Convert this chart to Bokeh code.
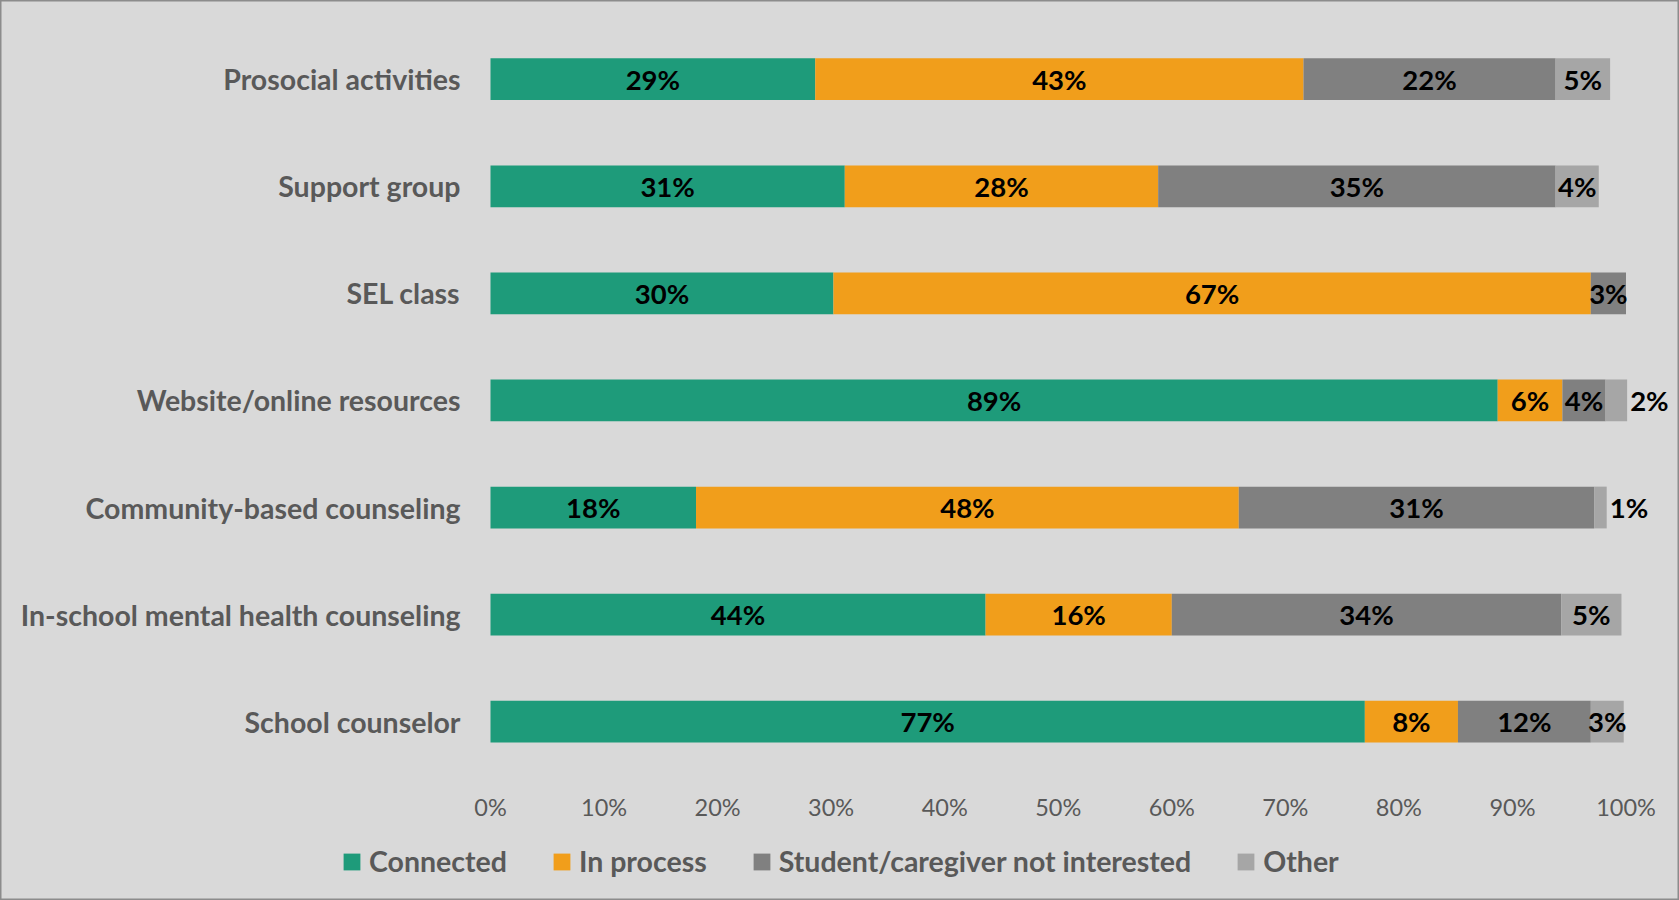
from bokeh.plotting import figure
from bokeh.models import Range1d, Legend, LegendItem
from bokeh.core.properties import value
from bokeh.embed import file_html
from bokeh.resources import INLINE

# ---- data (top to bottom) ----
categories = [
    "Prosocial activities",
    "Support group",
    "SEL class",
    "Website/online resources",
    "Community-based counseling",
    "In-school mental health counseling",
    "School counselor",
]
series = ["Connected", "In process", "Student/caregiver not interested", "Other"]
connected = [28.6, 31.2, 30.2, 88.7, 18.1, 43.6, 77.0]
in_process = [43.0, 27.6, 66.7, 5.7, 47.8, 16.4, 8.2]
not_interested = [22.2, 35.0, 3.1, 3.8, 31.3, 34.3, 11.7]
other = [4.8, 3.8, 0.0, 1.9, 1.1, 5.3, 2.9]
x_ticks = [0, 10, 20, 30, 40, 50, 60, 70, 80, 90, 100]

colors = ["#1E9B7A", "#F19E1B", "#808080", "#A6A6A6"]
BG = "#D9D9D9"
TXT = "#595959"
FONT = "Lato"

# ---- layout (pixels) ----
W, H = 1679, 900
ZERO_PX = 490.0          # where 0% sits
PX_PER_UNIT = 11.355     # pixels per 1%
ROW_TOP_PX = 78.7        # centre of first row
ROW_PX = 107.08          # row pitch

x_range = Range1d(-ZERO_PX / PX_PER_UNIT, (W - ZERO_PX) / PX_PER_UNIT)
y_range = Range1d(-(H - ROW_TOP_PX) / ROW_PX, ROW_TOP_PX / ROW_PX)

p = figure(width=W, height=H, output_backend="svg", toolbar_location=None,
           x_range=x_range, y_range=y_range,
           x_axis_location=None, y_axis_location=None,
           min_border=0, min_border_left=0, min_border_right=0,
           min_border_top=0, min_border_bottom=0,
           background_fill_color=BG, border_fill_color=BG,
           outline_line_color="#8C8C8C", outline_line_width=2)
p.xgrid.grid_line_color = None
p.ygrid.grid_line_color = None

row_y = [-i for i in range(len(categories))]
cols = [connected, in_process, not_interested, other]

# stacked bars
renderers = []
left = [0.0] * len(categories)
for s, vals in enumerate(cols):
    right = [l + v for l, v in zip(left, vals)]
    r = p.hbar(y=row_y, left=left, right=right, height=0.39,
               fill_color=colors[s], line_color=None)
    renderers.append(r)
    left = right

# data labels
in_x, in_y, in_t = [], [], []
out_x, out_y, out_t = [], [], []
for i in range(len(categories)):
    cum = 0.0
    for s in range(4):
        v = cols[s][i]
        if v > 0:
            if v < 2.5:
                out_x.append(cum + v); out_y.append(row_y[i]); out_t.append(f"{v:.0f}%")
            else:
                in_x.append(cum + v / 2); in_y.append(row_y[i]); in_t.append(f"{v:.0f}%")
        cum += v

p.text(x=in_x, y=in_y, text=in_t, text_align="center", text_baseline="middle",
       text_font=value(FONT), text_font_style="bold", text_font_size="27.5px",
       text_color="#000000")
p.text(x=out_x, y=out_y, text=out_t, text_align="left", text_baseline="middle",
       x_offset=3, text_font=value(FONT), text_font_style="bold",
       text_font_size="27.5px", text_color="#000000")

# category labels (left of the 0% line)
p.text(x=[0] * len(categories), y=row_y, text=categories, x_offset=-30,
       text_align="right", text_baseline="middle",
       text_font=value(FONT), text_font_style="bold", text_font_size="28.5px",
       text_color=TXT)

# x tick labels
p.text(x=x_ticks, y=[row_y[-1]] * len(x_ticks), text=[f"{t}%" for t in x_ticks],
       y_offset=85, text_align="center", text_baseline="middle",
       text_font=value(FONT), text_font_size="23.5px", text_color=TXT)

# legend
lg = Legend(items=[LegendItem(label=s, renderers=[r]) for s, r in zip(series, renderers)],
            orientation="horizontal", location=(341, 22),
            glyph_width=21, glyph_height=21, label_standoff=7, spacing=44,
            padding=0, margin=0, border_line_color=None,
            background_fill_alpha=0,
            label_text_font=FONT, label_text_font_style="bold",
            label_text_font_size="28.5px", label_text_color=TXT)
p.add_layout(lg, "center")

open("out.html", "w").write(file_html(p, INLINE))
